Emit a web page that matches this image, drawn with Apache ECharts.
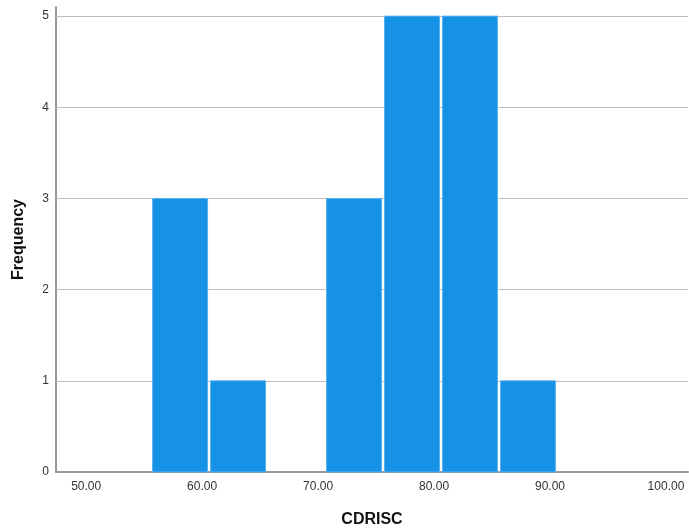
<!DOCTYPE html>
<html><head><meta charset="utf-8">
<script src="https://cdn.jsdelivr.net/npm/echarts@6/dist/echarts.min.js"></script>
<style>html,body{margin:0;padding:0;background:#fff}#c{width:689px;height:529px}</style>
</head><body><div id="c"></div>
<script>
const binStarts = [55.6, 60.6, 65.6, 70.6, 75.6, 80.6, 85.6];
const binWidth = 5;
const frequencies = [3, 1, 0, 3, 5, 5, 1];
const xTickValues = [50, 60, 70, 80, 90, 100];
const yTickValues = [0, 1, 2, 3, 4, 5];

const data = binStarts.map((s, i) => [s, s + binWidth, frequencies[i]]);
const font = '"Liberation Sans", Arial, sans-serif';
const chart = echarts.init(document.getElementById('c'), null, {renderer: 'canvas'});
chart.setOption({
  animation: false,
  grid: {left: 56, right: 1, top: 7, bottom: 57, outerBoundsMode: 'none', containLabel: false},
  xAxis: {
    type: 'value', min: 47.4, max: 101.9,
    name: 'CDRISC', nameLocation: 'middle', nameGap: 40,
    nameTextStyle: {fontFamily: font, fontWeight: 'bold', fontSize: 16, color: '#111'},
    axisLine: {show: true, lineStyle: {color: '#999', width: 2}},
    axisTick: {show: false},
    splitLine: {show: false},
    axisLabel: {customValues: xTickValues, formatter: v => v.toFixed(2), fontFamily: font, fontSize: 12, color: '#333', margin: 9}
  },
  yAxis: {
    type: 'value', min: 0, max: 5.1,
    name: 'Frequency', nameLocation: 'middle', nameGap: 29, nameRotate: 90,
    nameTextStyle: {fontFamily: font, fontWeight: 'bold', fontSize: 16, color: '#111'},
    axisLine: {show: true, lineStyle: {color: '#999', width: 2}},
    axisTick: {show: false},
    splitLine: {show: false},
    axisLabel: {customValues: yTickValues, fontFamily: font, fontSize: 12, color: '#333', margin: 7}
  },
  series: [
    {
      type: 'line', data: [], silent: true, z: 1,
      markLine: {
        silent: true, symbol: 'none', label: {show: false}, z: 1,
        lineStyle: {color: '#bdbdbd', width: 1, type: 'solid'},
        data: yTickValues.filter(v => v > 0).map(v => ({yAxis: v}))
      }
    },
    {
      type: 'custom', z: 5,
      data: data,
      encode: {x: [0, 1], y: 2},
      renderItem: function (params, api) {
        if (api.value(2) <= 0) return null;
        const p0 = api.coord([api.value(0), api.value(2)]);
        const p1 = api.coord([api.value(1), 0]);
        const x = p0[0] + 1.5, w = p1[0] - p0[0] - 3;
        return {
          type: 'rect',
          shape: {x: x, y: p0[1], width: w, height: p1[1] - p0[1]},
          style: {fill: '#1591e6', stroke: '#5db1ee', lineWidth: 1}
        };
      }
    }
  ]
});
</script></body></html>
